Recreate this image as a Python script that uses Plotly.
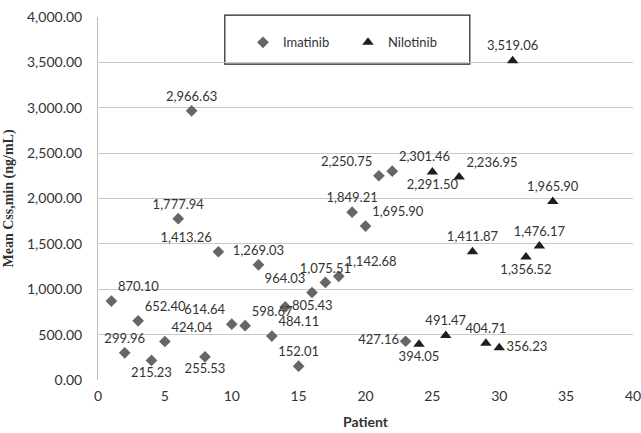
import plotly.graph_objects as go

imatinib_patient = list(range(1, 24))
imatinib_value = [870.10, 299.96, 652.40, 215.23, 424.04, 1777.94, 2966.63, 255.53,
                  1413.26, 614.64, 598.67, 1269.03, 484.11, 805.43, 152.01, 964.03,
                  1075.51, 1142.68, 1849.21, 1695.90, 2250.75, 2301.46, 427.16]
imatinib_pos = ["top right", "top center", "top right", "bottom center", "top right",
                "top center", "top center", "bottom center", "top left", "top left",
                "top right", "top center", "top right", "middle right", "top center",
                "top left", "top center", "top right", "top center", "top right",
                "top left", "top right", "middle left"]

nilotinib_patient = list(range(24, 35))
nilotinib_value = [394.05, 2291.50, 491.47, 2236.95, 1411.87, 404.71, 356.23,
                   3519.06, 1356.52, 1476.17, 1965.90]
nilotinib_pos = ["bottom center", "bottom center", "top center", "top right", "top center",
                 "top center", "middle right", "top center", "bottom center",
                 "top center", "top center"]

y_ticks = [0, 500, 1000, 1500, 2000, 2500, 3000, 3500, 4000]
x_ticks = [0, 5, 10, 15, 20, 25, 30, 35, 40]

def fmt(v):
    return f"{v:,.2f}"

fig = go.Figure()
fig.add_trace(go.Scatter(
    x=imatinib_patient, y=imatinib_value, mode="markers+text", name="Imatinib",
    marker=dict(symbol="diamond", size=9, color="#666666"),
    text=[fmt(v) for v in imatinib_value], textposition=imatinib_pos,
    textfont=dict(family="Lato", size=13, color="#333333"),
))
fig.add_trace(go.Scatter(
    x=nilotinib_patient, y=nilotinib_value, mode="markers+text", name="Nilotinib",
    marker=dict(symbol="triangle-up", size=10, color="#1e1e1e"),
    text=[fmt(v) for v in nilotinib_value], textposition=nilotinib_pos,
    textfont=dict(family="Lato", size=13, color="#333333"),
))

# legend frame
fig.add_shape(type="rect", xref="paper", yref="paper",
              x0=0.237, x1=0.695, y0=0.870, y1=1.005,
              line=dict(color="#222222", width=1.2), fillcolor="white", layer="below")

fig.update_layout(
    width=641, height=433,
    margin=dict(l=98, r=8, t=17, b=53, autoexpand=False),
    paper_bgcolor="white", plot_bgcolor="white",
    font=dict(family="Lato", size=14, color="#333333"),
    legend=dict(orientation="h", x=0.271, y=0.93, xanchor="left", yanchor="middle",
                borderwidth=0, bgcolor="rgba(0,0,0,0)",
                font=dict(family="Lato", size=13, color="#333333"),
                itemwidth=30, entrywidth=60, entrywidthmode="pixels"),
    xaxis=dict(range=[0, 40], tickvals=x_ticks, showgrid=False, zeroline=False,
               showline=False, automargin=False, ticklabeloverflow="allow",
               ticklabelstandoff=6,
               title=dict(text="<b>Patient</b>", font=dict(family="Lato", size=14), standoff=14)),
    yaxis=dict(range=[0, 4000], tickvals=y_ticks, ticktext=[fmt(v) for v in y_ticks],
               showgrid=True, gridcolor="#c8c8c8", gridwidth=1, zeroline=False,
               showline=True, linecolor="#bdbdbd", ticks="", ticklen=0, automargin=False,
               ticklabelstandoff=12,
               title=dict(text="<b>Mean Css,min (ng/mL)</b>",
                          font=dict(family="Liberation Serif", size=14), standoff=10)),
)

fig.write_html("out.html", config={"displayModeBar": False},
               post_script="document.body.style.margin='0';")
